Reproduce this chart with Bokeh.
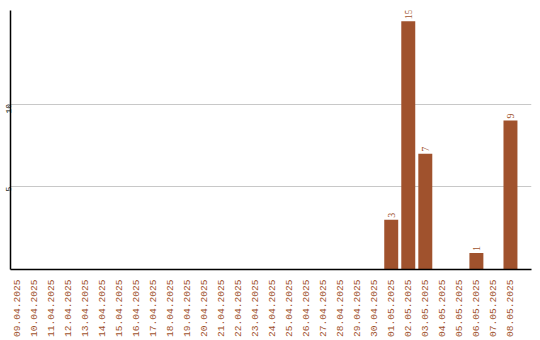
import math
from bokeh.plotting import figure
from bokeh.models import Range1d, FixedTicker, ColumnDataSource, LabelSet
from bokeh.embed import file_html
from bokeh.resources import INLINE

dates = ["09.04.2025", "10.04.2025", "11.04.2025", "12.04.2025", "13.04.2025",
         "14.04.2025", "15.04.2025", "16.04.2025", "17.04.2025", "18.04.2025",
         "19.04.2025", "20.04.2025", "21.04.2025", "22.04.2025", "23.04.2025",
         "24.04.2025", "25.04.2025", "26.04.2025", "27.04.2025", "28.04.2025",
         "29.04.2025", "30.04.2025", "01.05.2025", "02.05.2025", "03.05.2025",
         "04.05.2025", "05.05.2025", "06.05.2025", "07.05.2025", "08.05.2025"]
counts = [0, 0, 0, 0, 0, 0, 0, 0, 0, 0,
          0, 0, 0, 0, 0, 0, 0, 0, 0, 0,
          0, 0, 3, 15, 7, 0, 0, 1, 0, 9]
y_ticks = [5, 10]

BROWN = "#A0522D"
MONO = "Liberation Mono"

idx = list(range(len(dates)))
nz = [i for i in idx if counts[i] > 0]
bar_src = ColumnDataSource(dict(x=[i for i in nz], top=[counts[i] for i in nz],
                                label=[str(counts[i]) for i in nz]))

p = figure(width=540, height=340, output_backend="svg", toolbar_location=None,
           x_range=Range1d(-0.353, 30.235), y_range=Range1d(0, 15.65),
           min_border_left=0, min_border_right=9, min_border_top=10, min_border_bottom=0)
p.outline_line_color = None
p.background_fill_color = "white"

p.vbar(x="x", top="top", width=0.82, source=bar_src, fill_color=BROWN, line_color=None)
labels = LabelSet(x="x", y="top", text="label", source=bar_src, angle=math.pi/2,
                  text_align="left", text_baseline="middle", x_offset=0, y_offset=2,
                  text_font=MONO, text_font_size="10px", text_color=BROWN)
p.add_layout(labels)

xa = p.xaxis[0]
xa.ticker = FixedTicker(ticks=idx)
xa.major_label_overrides = {i: d for i, d in enumerate(dates)}
xa.major_label_orientation = math.pi/2
xa.major_label_text_font = MONO
xa.major_label_text_font_size = "9.6px"
xa.major_label_text_color = BROWN
xa.major_tick_line_color = None
xa.minor_tick_line_color = None
xa.major_tick_out = 0
xa.major_tick_in = 0
xa.major_label_standoff = 10
xa.axis_line_color = "black"
xa.axis_line_width = 1.5

ya = p.yaxis[0]
ya.ticker = FixedTicker(ticks=y_ticks)
ya.major_label_orientation = math.pi/2
ya.major_label_text_font = MONO
ya.major_label_text_font_size = "8px"
ya.major_label_text_color = "black"
ya.major_tick_line_color = None
ya.minor_tick_line_color = None
ya.major_tick_out = 0
ya.major_tick_in = 0
ya.major_label_standoff = 2
ya.axis_line_color = "black"
ya.axis_line_width = 1.5

p.xgrid.grid_line_color = None
p.ygrid.grid_line_color = "#c8c8c8"
p.ygrid.ticker = FixedTicker(ticks=y_ticks)

open("out.html", "w").write(file_html(p, INLINE))
